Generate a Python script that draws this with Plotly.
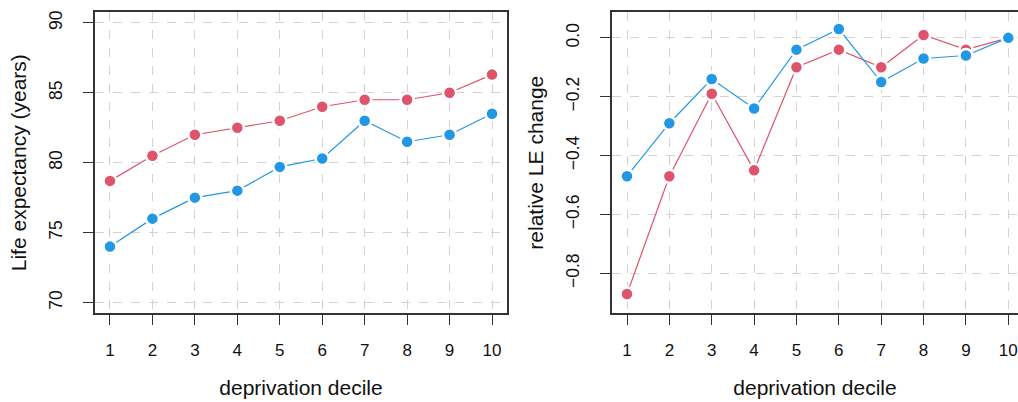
import plotly.graph_objects as go

deciles = [1, 2, 3, 4, 5, 6, 7, 8, 9, 10]
le_red = [78.7, 80.5, 82.0, 82.5, 83.0, 84.0, 84.5, 84.5, 85.0, 86.3]
le_blue = [74.0, 76.0, 77.5, 78.0, 79.7, 80.3, 83.0, 81.5, 82.0, 83.5]
rel_red = [-0.87, -0.47, -0.19, -0.45, -0.10, -0.04, -0.10, 0.01, -0.04, 0.0]
rel_blue = [-0.47, -0.29, -0.14, -0.24, -0.04, 0.03, -0.15, -0.07, -0.06, 0.0]
le_ticks = [70, 75, 80, 85, 90]
rel_ticks = [-0.8, -0.6, -0.4, -0.2, 0.0]

RED = "#DF536B"
BLUE = "#2297E6"
FONT = "Liberation Sans"

fig = go.Figure()


def add(y, color, xa, ya):
    fig.add_trace(go.Scatter(
        x=deciles, y=y, mode="lines+markers", xaxis=xa, yaxis=ya,
        line=dict(color=color, width=1.2),
        marker=dict(color=color, size=13, line=dict(color="white", width=2.5)),
        showlegend=False, cliponaxis=False,
    ))


add(le_red, RED, "x", "y")
add(le_blue, BLUE, "x", "y")
add(rel_red, RED, "x2", "y2")
add(rel_blue, BLUE, "x2", "y2")

W, H = 1018, 402
ytop, ybot = 1 - 10 / H, 1 - 313 / H

common_x = dict(
    tickmode="array", tickvals=deciles, ticks="outside", ticklen=10, tickwidth=1.3,
    tickcolor="#333", showline=True, linecolor="#333", linewidth=1.5,
    showgrid=True, gridcolor="#d3d3d3", griddash="dash", gridwidth=1,
    zeroline=False, tickfont=dict(family=FONT, size=17, color="#111"),
    ticklabelstandoff=10,
    title=dict(text="deprivation decile", font=dict(family=FONT, size=21, color="#111"), standoff=22),
)
common_y = dict(
    ticks="outside", ticklen=10, tickwidth=1.3, tickcolor="#333",
    showline=True, linecolor="#333", linewidth=1.5,
    showgrid=True, gridcolor="#d3d3d3", griddash="dash", gridwidth=1,
    zeroline=False, tickfont=dict(family=FONT, size=17.5, color="#111"),
    tickangle=-90, ticklabelstandoff=14,
)

fig.update_layout(
    width=W, height=H,
    margin=dict(l=0, r=0, t=0, b=0),
    paper_bgcolor="white", plot_bgcolor="white",
    xaxis=dict(domain=[95 / W, 507 / W], range=[0.647, 10.353], anchor="y", mirror=True, **common_x),
    yaxis=dict(domain=[ybot, ytop], range=[69.22, 90.78], anchor="x", mirror=True,
               tickvals=le_ticks,
               title=dict(text="Life expectancy (years)", font=dict(family=FONT, size=21, color="#111"), standoff=14),
               **common_y),
    xaxis2=dict(domain=[612 / W, 1.0], range=[0.646, 10.229], anchor="y2", mirror=True, **common_x),
    yaxis2=dict(domain=[ybot, ytop], range=[-0.936, 0.088], anchor="x2", mirror=False,
                tickvals=rel_ticks, tickformat=".1f",
                title=dict(text="relative LE change", font=dict(family=FONT, size=21, color="#111"), standoff=14),
                **common_y),
)

fig.write_html("out.html")
